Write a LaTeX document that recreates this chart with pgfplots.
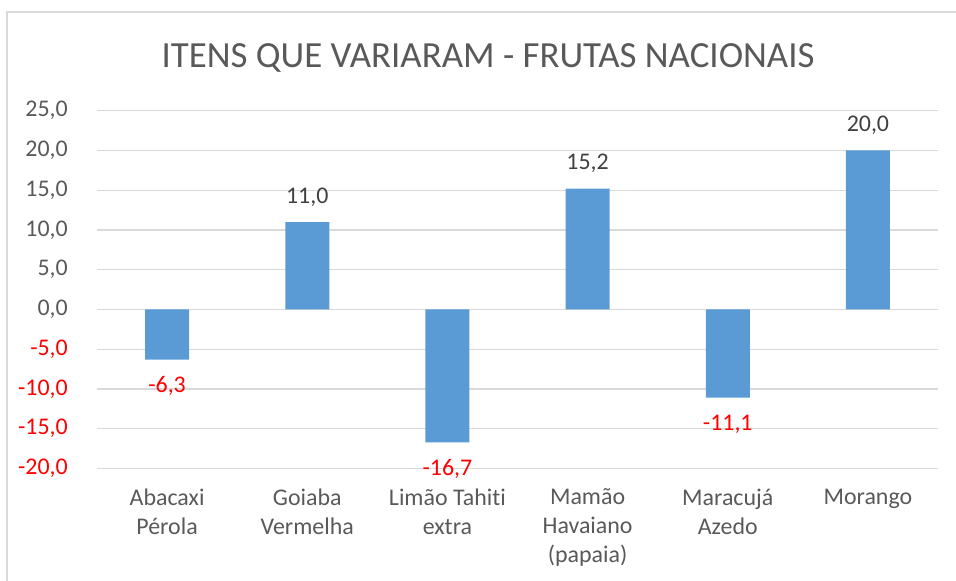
\documentclass[border=0pt]{standalone}
\usepackage{pgfplots}
\pgfplotsset{compat=1.18}
\usepackage{fontspec}
\setmainfont{Carlito}[Ligatures={NoCommon}]
\definecolor{barblue}{HTML}{5B9BD5}
\definecolor{gridgray}{HTML}{D9D9D9}
\definecolor{txtgray}{HTML}{595959}
\definecolor{lblgray}{HTML}{404040}
\definecolor{negred}{HTML}{FF0000}
\begin{document}
\begin{tikzpicture}[x=1bp,y=1bp]
\useasboundingbox (0,0) rectangle (956,581);
\draw[gridgray, line width=1.2bp] (7,0) -- (7,569) -- (956,569);
\node[anchor=base, text=txtgray, font=\fontsize{37}{44}\selectfont] at (488,513) {ITENS QUE VARIARAM - FRUTAS NACIONAIS};
\begin{axis}[
  at={(97bp,112.5bp)}, anchor=south west,
  scale only axis, width=841bp, height=357.8bp,
  xmin=-0.5, xmax=5.5, ymin=-20, ymax=25,
  axis line style={draw=none},
  major tick length=0pt,
  ytick={-20,-15,-10,-5,0,5,10,15,20,25},
  yticklabels={{\textcolor{negred}{-20,0}},{\textcolor{negred}{-15,0}},{\textcolor{negred}{-10,0}},{\textcolor{negred}{-5,0}},{0,0},{5,0},{10,0},{15,0},{20,0},{25,0}},
  yticklabel style={font=\fontsize{24}{29}\selectfont, text=txtgray, inner sep=0pt, anchor=east, xshift=-29bp},
  ymajorgrids, grid style={gridgray, line width=1.4bp},
  xtick={0,1,2,3,4,5},
  xticklabels={{Abacaxi\\Pérola},{Goiaba\\Vermelha},{Limão Tahiti\\extra},{Mamão\\Havaiano\\(papaia)},{Maracujá\\Azedo},{Morango}},
  xticklabel style={font=\fontsize{24}{29}\selectfont, text=txtgray, align=center, anchor=north, inner sep=0pt, yshift=-20bp},
  clip=false,
]
\addplot[ybar, bar width=44bp, bar shift=0pt, fill=barblue, draw=none,
  nodes near coords={\pgfmathprintnumber[fixed,fixed zerofill,precision=1,use comma,assume math mode=true]{\pgfplotspointmeta}},
  nodes near coords align={center},
  every node near coord/.style={anchor=base, yshift=19bp, text=lblgray, font=\fontsize{24}{29}\selectfont, inner sep=0pt}]
  coordinates {(1,11.0) (3,15.2) (5,20.0)};
\addplot[ybar, bar width=44bp, bar shift=0pt, fill=barblue, draw=none,
  nodes near coords={\pgfmathprintnumber[fixed,fixed zerofill,precision=1,use comma,assume math mode=true]{\pgfplotspointmeta}},
  nodes near coords align={center},
  every node near coord/.style={anchor=base, yshift=-33bp, text=negred, font=\fontsize{24}{29}\selectfont, inner sep=0pt}]
  coordinates {(0,-6.3) (2,-16.7) (4,-11.1)};
\end{axis}
\end{tikzpicture}
\end{document}
